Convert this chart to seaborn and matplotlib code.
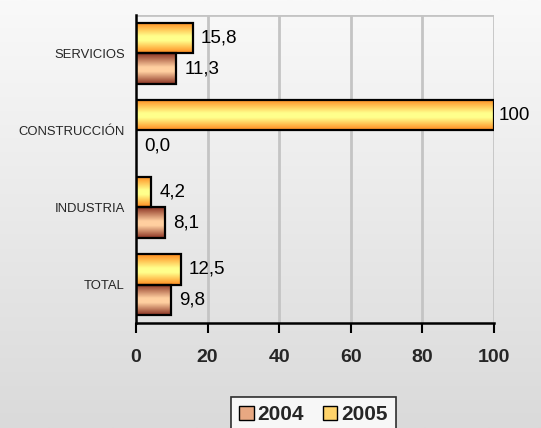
import numpy as np
import pandas as pd
import matplotlib
matplotlib.use("Agg")
import matplotlib.pyplot as plt
import seaborn as sns
from matplotlib.colors import LinearSegmentedColormap
from matplotlib.patches import Patch

categories = ["SERVICIOS", "CONSTRUCCIÓN", "INDUSTRIA", "TOTAL"]
values_2004 = [11.3, 0.0, 8.1, 9.8]
values_2005 = [15.8, 100.0, 4.2, 12.5]
years = ["2005", "2004"]
x_ticks = [0, 20, 40, 60, 80, 100]

df = pd.DataFrame({
    "cat": categories * 2,
    "year": ["2005"] * 4 + ["2004"] * 4,
    "val": values_2005 + values_2004,
})

sns.set_style("white")
plt.rcParams["font.family"] = ["Liberation Sans", "DejaVu Sans"]

fig = plt.figure(figsize=(5.41, 4.28), dpi=100)

# figure background gradient
bg = fig.add_axes([0, 0, 1, 1], zorder=-10)
bgcm = LinearSegmentedColormap.from_list("bg", ["#f9f9f9", "#dadada"])
bg.imshow(np.linspace(0, 1, 256).reshape(-1, 1), cmap=bgcm, aspect="auto",
          extent=(0, 1, 0, 1), origin="upper")
bg.axis("off")

ax = fig.add_axes([0.2514, 0.2453, 0.9131 - 0.2514, 0.965 - 0.2453])
ax.patch.set_alpha(0)

sns.barplot(data=df, y="cat", x="val", hue="year", hue_order=years,
            order=categories, orient="h", width=0.8, ax=ax,
            palette={"2005": "#ffd966", "2004": "#e0a080"},
            edgecolor="black", linewidth=1.6, legend=False)

xlim = (0, 100)
ylim = ax.get_ylim()

cm05 = LinearSegmentedColormap.from_list(
    "c05", [(0, "#ff8a1e"), (0.45, "#ffff8c"), (0.6, "#ffff8c"), (1, "#ff8a1e")])
cm04 = LinearSegmentedColormap.from_list(
    "c04", [(0, "#8a3222"), (0.45, "#ffcfa0"), (0.6, "#ffcfa0"), (1, "#8a3222")])

grad = np.linspace(0, 1, 128).reshape(-1, 1)
bars = [p for p in ax.patches]
for i, p in enumerate(bars):
    x0, y0 = p.get_x(), p.get_y()
    w, h = p.get_width(), p.get_height()
    cm = cm05 if i < len(categories) else cm04
    if w > 0:
        ax.imshow(grad, cmap=cm, aspect="auto",
                  extent=(x0, x0 + w, y0 + h, y0), zorder=2.5)
        p.set_facecolor("none")
        p.set_zorder(3)
    else:
        p.set_visible(False)

ax.set_xlim(*xlim)
ax.set_ylim(*ylim)

# value labels
all_vals = values_2005 + values_2004
for i, p in enumerate(bars):
    v = all_vals[i]
    txt = "100" if v == 100 else f"{v:.1f}".replace(".", ",")
    off = 3.0 if v >= xlim[1] else 6.0
    ax.annotate(txt, xy=(p.get_x() + p.get_width(), p.get_y() + p.get_height() / 2),
                xytext=(off, 0), textcoords="offset points",
                va="center", ha="left", fontsize=13.5, color="black",
                annotation_clip=False, zorder=5)

# grid
ax.set_xticks(x_ticks)
ax.set_xticklabels([str(t) for t in x_ticks], fontsize=14, fontweight="bold")
for t in x_ticks[1:]:
    ax.axvline(t, color="#c4c4c4", lw=2, zorder=1)
ax.axhline(ylim[1], color="#c4c4c4", lw=2, zorder=1)

ax.set_yticks(range(len(categories)))
ax.set_yticklabels(categories, fontsize=9.4)
ax.set_yticks([i - 0.5 for i in range(len(categories) + 1)], minor=True)
ax.tick_params(axis="y", which="major", length=0, pad=8)
ax.tick_params(axis="y", which="minor", length=5, width=1.5, color="black", direction="out")
ax.tick_params(axis="x", which="major", length=7, width=1.5, color="black",
               direction="out", pad=12, bottom=True)

for s in ["top", "right"]:
    ax.spines[s].set_visible(False)
for s in ["left", "bottom"]:
    ax.spines[s].set_color("black")
    ax.spines[s].set_linewidth(1.8)
    ax.spines[s].set_zorder(4)

ax.set_xlabel("")
ax.set_ylabel("")

handles = [Patch(facecolor="#e8a882", edgecolor="black", label="2004"),
           Patch(facecolor="#ffd36a", edgecolor="black", label="2005")]
leg = fig.legend(handles=handles, loc="upper left",
                 bbox_to_anchor=(231 / 541, 1 - 397 / 428),
                 ncol=2, frameon=True, fancybox=False,
                 prop={"weight": "bold", "size": 15},
                 handlelength=0.68, handleheight=0.68, handletextpad=0.2,
                 columnspacing=0.9, borderpad=0.4, borderaxespad=0,
                 edgecolor="black")
leg.get_frame().set_linewidth(1.2)
leg.get_frame().set_facecolor("white")

fig.savefig("out.png", dpi=100)
